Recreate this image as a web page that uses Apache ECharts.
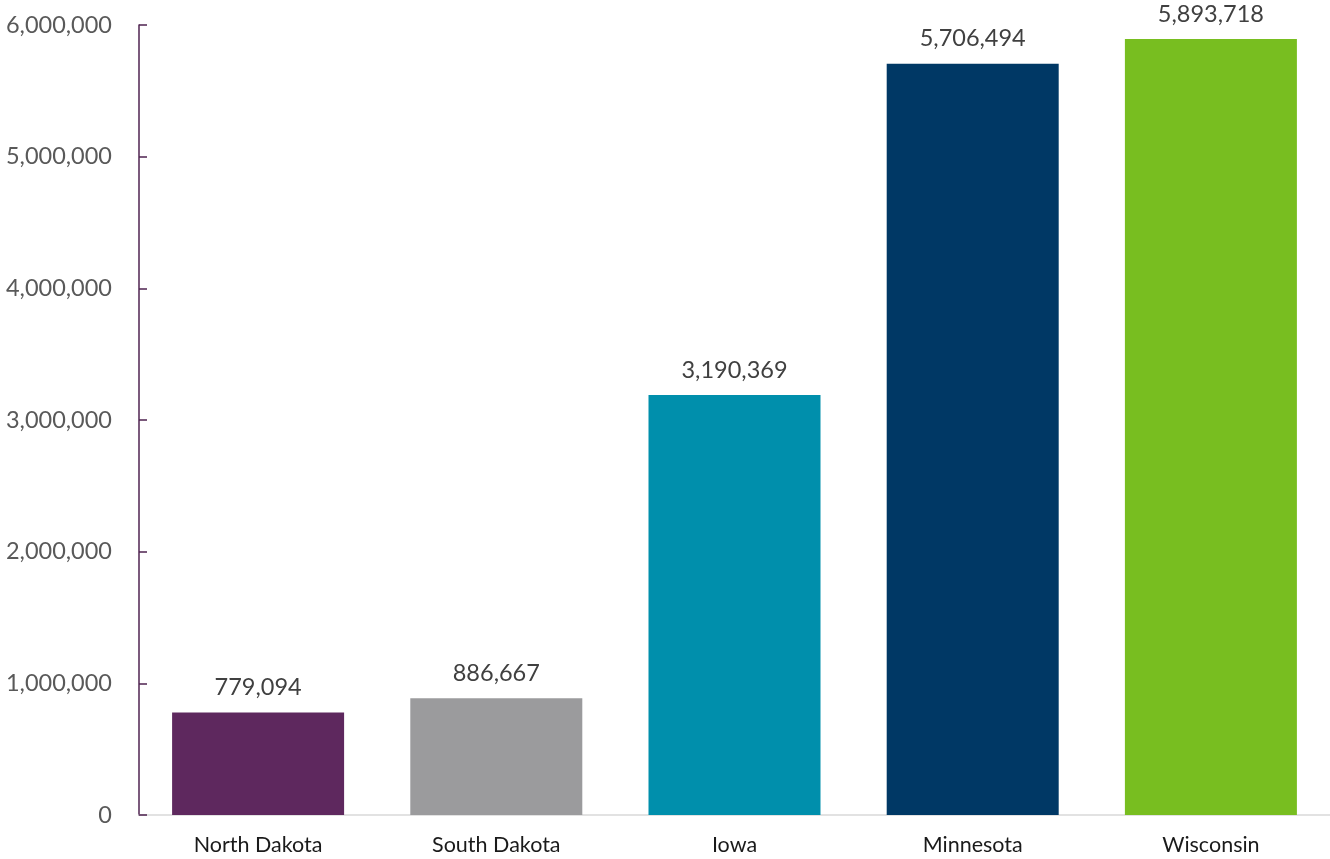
<!DOCTYPE html>
<html><head><meta charset="utf-8">
<script src="https://cdn.jsdelivr.net/npm/echarts@6/dist/echarts.min.js"></script>
<style>html,body{margin:0;padding:0;background:#fff}#c{width:1330px;height:859px}</style>
</head><body><div id="c"></div>
<script>
const categories = ["North Dakota", "South Dakota", "Iowa", "Minnesota", "Wisconsin"];
const values = [779094, 886667, 3190369, 5706494, 5893718];
const colors = ["#5E285E", "#9B9B9D", "#008FAC", "#003865", "#78BE20"];
const yTicks = [0, 1000000, 2000000, 3000000, 4000000, 5000000, 6000000];
const fmt = v => v.toLocaleString('en-US');
const chart = echarts.init(document.getElementById('c'));
chart.setOption({
  animation: false,
  grid: {left: 139, right: 0, top: 25, bottom: 44, containLabel: false},
  xAxis: {
    type: 'category', data: categories,
    axisLine: {lineStyle: {color: '#D9D9D9', width: 1.5}},
    axisTick: {show: false},
    axisLabel: {color: '#1a1a1a', fontSize: 21.5, fontFamily: 'Lato', margin: 19}
  },
  yAxis: {
    type: 'value', min: yTicks[0], max: yTicks[yTicks.length-1], interval: 1000000,
    axisLine: {show: true, lineStyle: {color: '#4F2350', width: 1.5}},
    axisTick: {show: true, inside: true, length: 8, lineStyle: {color: '#4F2350', width: 1.5}},
    splitLine: {show: false},
    axisLabel: {color: '#595959', fontSize: 23.5, fontFamily: 'Lato', margin: 27, formatter: v => fmt(v)}
  },
  series: [{
    type: 'bar', barWidth: 172,
    data: values.map((v, i) => ({value: v, itemStyle: {color: colors[i]}})),
    label: {show: true, position: 'top', distance: 13, color: '#404040', fontSize: 23.5, fontFamily: 'Lato', formatter: p => fmt(p.value)}
  }]
});
</script></body></html>
